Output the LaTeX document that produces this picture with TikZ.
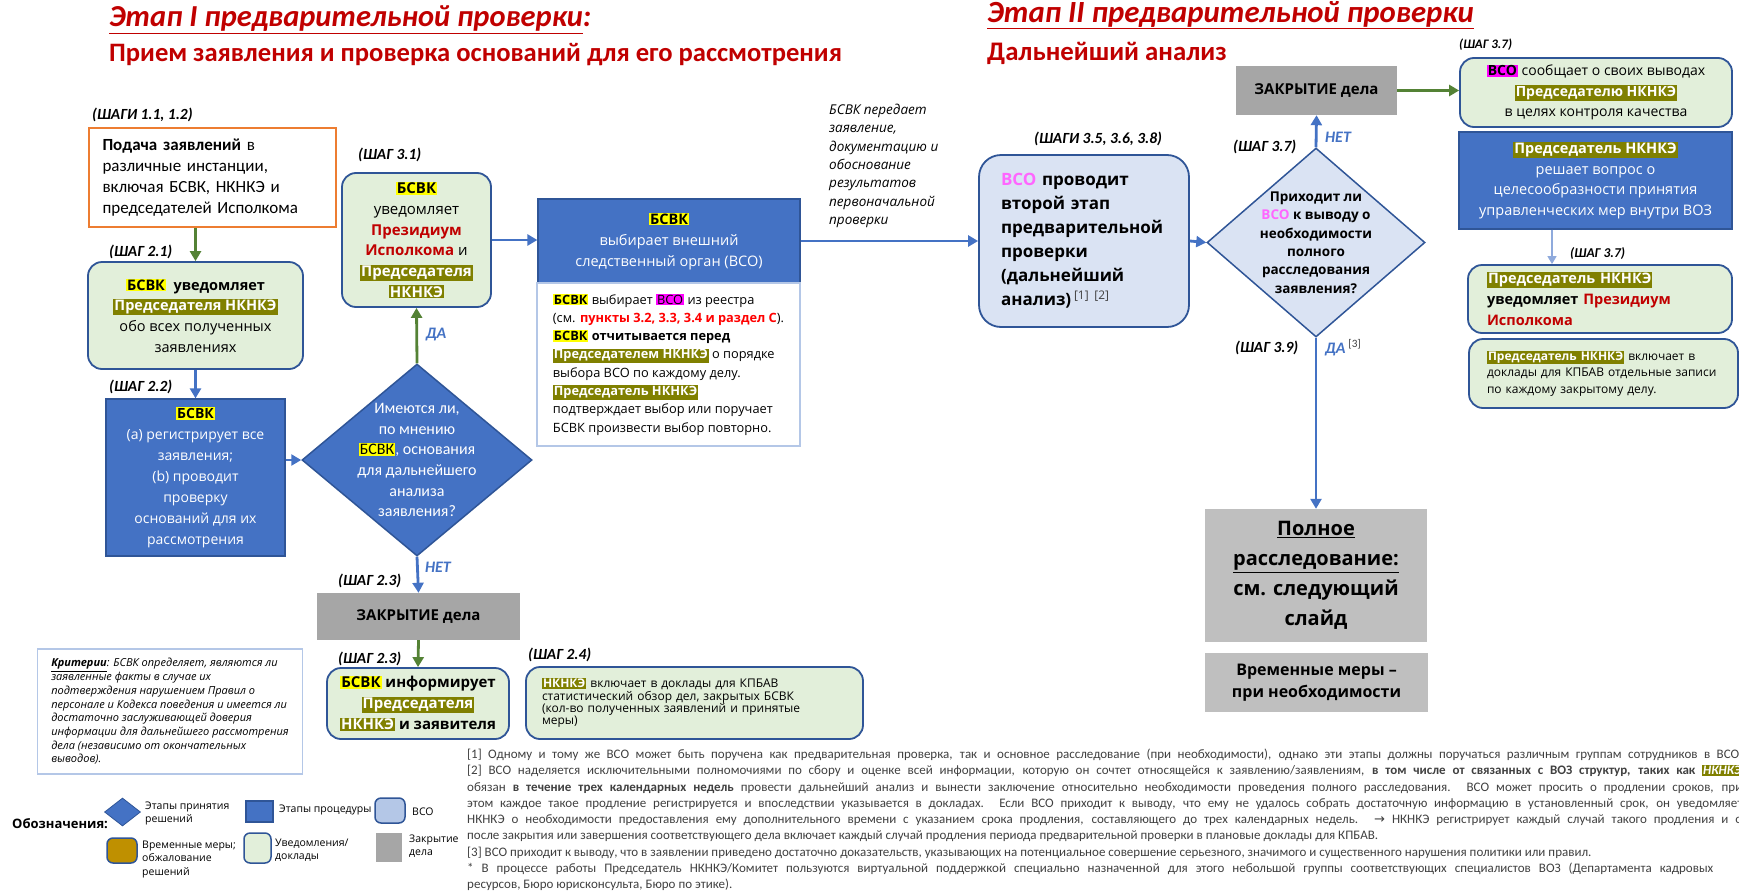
\documentclass[tikz,border=0pt]{standalone}
\usepackage{fontspec}
\setmainfont{Open Sans}
\newfontfamily\calib{Carlito}
\newfontfamily\symfont{DejaVu Sans}
\usetikzlibrary{positioning, shapes.geometric, arrows.meta, calc}
\definecolor{procblue}{RGB}{68,114,196}
\definecolor{edgeblue}{RGB}{47,85,151}
\definecolor{notegreen}{RGB}{226,239,218}
\definecolor{vsoblue}{RGB}{218,227,243}
\definecolor{legendblue}{RGB}{180,199,231}
\definecolor{closegray}{RGB}{166,166,166}
\definecolor{fullgray}{RGB}{191,191,191}
\definecolor{flowgreen}{RGB}{84,130,53}
\definecolor{submitorange}{RGB}{237,125,49}
\definecolor{titlered}{RGB}{192,0,0}
\definecolor{refred}{RGB}{255,0,0}
\definecolor{hlolive}{RGB}{128,128,0}
\definecolor{hlyellow}{RGB}{255,255,0}
\definecolor{hlmagenta}{RGB}{255,0,255}
\definecolor{vsopink}{RGB}{255,102,255}
\definecolor{interimbrown}{RGB}{191,144,0}
\definecolor{thinblue}{RGB}{143,170,220}
\definecolor{notegray}{RGB}{64,64,64}
\newcommand{\fsz}[2]{\fontsize{#1}{#2}\selectfont}
\newcommand{\hlY}[1]{{\setlength{\fboxsep}{1pt}\colorbox{hlyellow}{\textcolor{black}{#1}}}}
\newcommand{\hlO}[1]{{\setlength{\fboxsep}{1pt}\colorbox{hlolive}{\textcolor{white}{\bfseries #1}}}}
\newcommand{\hlM}[1]{{\setlength{\fboxsep}{1pt}\colorbox{hlmagenta}{\textcolor{black}{#1}}}}
\newcommand{\fullline}[1]{\makebox[1275pt][s]{#1}}

\begin{document}
\begin{tikzpicture}[x=1pt, y=-1pt,
    box/.style={align=center, inner sep=0pt, text=black},
    notebox/.style={box, draw=edgeblue, line width=1.8pt, fill=notegreen, rounded corners=14pt},
    procbox/.style={box, draw=edgeblue, line width=1.2pt, fill=procblue, text=white},
    vsobox/.style={box, draw=edgeblue, line width=1.8pt, fill=vsoblue, rounded corners=22pt},
    closebox/.style={box, fill=closegray, font=\bfseries\fsz{15}{20}},
    decision/.style={diamond, draw=edgeblue, line width=1.5pt, fill=procblue, inner sep=0pt},
    steplabel/.style={font=\calib\bfseries\itshape\fsz{15.5}{18}, inner sep=0pt, anchor=west},
    answer/.style={font=\calib\bfseries\itshape\fsz{16}{18}, text=procblue, inner sep=0pt},
    arrow/.style={-{Triangle[length=10pt,width=11pt]}, line width=2.8pt, procblue},
    okarrow/.style={arrow, flowgreen},
    thinarrow/.style={-{Triangle[length=8pt,width=9pt]}, line width=1.4pt, thinblue},
    keyitem/.style={font=\fsz{10.5}{13.5}, align=left, anchor=west, inner sep=0pt}
]
\useasboundingbox (0,0) rectangle (1739,894);
\clip (0,0) rectangle (1739,894);

% Titles
\node[anchor=west, inner sep=0pt, text=titlered, font=\calib\bfseries\itshape\fsz{30.5}{36}] (stage1) at (109,20) {\underline{Этап I предварительной проверки}:};
\node[anchor=west, inner sep=0pt, text=titlered, font=\calib\bfseries\fsz{26.6}{32}] (stage1sub) at (109,55) {Прием заявления и проверка оснований для его рассмотрения};
\node[anchor=west, inner sep=0pt, text=titlered, font=\calib\bfseries\itshape\fsz{30.8}{36}] (stage2) at (987,15) {\underline{Этап II предварительной проверки}};
\node[anchor=west, inner sep=0pt, text=titlered, font=\calib\bfseries\fsz{26.8}{32}] (stage2sub) at (987,53) {Дальнейший анализ};

% Stage I: intake
\node[steplabel] (s11) at (92,115) {(ШАГИ 1.1, 1.2)};
\node[box, draw=submitorange, line width=2pt, fill=white, minimum width=247pt, minimum height=99pt, text width=220pt, align=left, font=\calib\fsz{17}{21}] (submit) at (212.5,177.5) {\textbf{Подача заявлений} в\\различные инстанции,\\включая БСВК, НКНКЭ и\\председателей Исполкома};

\node[steplabel] (s21) at (109,252) {(ШАГ 2.1)};
\node[notebox, minimum width=215pt, minimum height=107pt, font=\fsz{14.5}{20.7}] (notify) at (195.5,315.5) {\hlY{\textbf{БСВК}}\ \ \textbf{уведомляет}\\\hlO{Председателя НКНКЭ}\\обо всех полученных\\заявлениях};

\node[steplabel] (s22) at (109,387) {(ШАГ 2.2)};
\node[procbox, minimum width=179pt, minimum height=157pt, font=\fsz{14}{21}] (register) at (195.5,477.5) {\hlY{\textbf{БСВК}}\\(a) регистрирует все\\заявления;\\(b) проводит\\проверку\\оснований для их\\рассмотрения};

\node[decision, minimum width=230pt, minimum height=192pt] (grounds) at (417,460) {};
\node[box, text=white, font=\calib\fsz{16}{20.7}] (groundstext) at (grounds) {Имеются ли,\\по мнению\\\hlY{БСВК}, основания\\для дальнейшего\\анализа\\заявления?};

\node[steplabel] (s31) at (358,155) {(ШАГ 3.1)};
\node[notebox, minimum width=149pt, minimum height=134pt, font=\fsz{15}{20.7}] (presidium) at (416.5,240) {\hlY{\textbf{БСВК}}\\уведомляет\\\textcolor{titlered}{\textbf{Президиум}}\\\textcolor{titlered}{\textbf{Исполкома}} и\\\hlO{Председателя}\\\hlO{НКНКЭ}};
\node[answer] (yes1) at (436,335) {ДА};

\node[procbox, minimum width=262pt, minimum height=84pt, font=\fsz{14.5}{21}] (choose) at (669,241) {\hlY{\textbf{БСВК}}\\выбирает внешний\\следственный орган (ВСО)};
\node[box, draw=legendblue, line width=1.2pt, fill=white, minimum width=263pt, minimum height=163pt, align=left, font=\fsz{12.8}{18.3}] (rules) at (668.5,364.5) {\hlY{\textbf{БСВК}} выбирает \hlM{ВСО} из реестра\\(см. \textcolor{refred}{\textbf{пункты 3.2, 3.3, 3.4 и раздел С}}).\\\hlY{\textbf{БСВК}} \textbf{отчитывается перед}\\\hlO{Председателем НКНКЭ} о порядке\\выбора ВСО по каждому делу.\\\hlO{Председатель НКНКЭ}\\подтверждает выбор или поручает\\БСВК произвести выбор повторно.};

% Stage I: closure
\node[answer] (no1) at (438,567) {НЕТ};
\node[steplabel] (s23a) at (338,581) {(ШАГ 2.3)};
\node[closebox, minimum width=203pt, minimum height=47pt] (closeleft) at (418.5,616.5) {ЗАКРЫТИЕ дела};
\node[steplabel] (s23b) at (338,659) {(ШАГ 2.3)};
\node[notebox, minimum width=182pt, minimum height=71pt, font=\bfseries\fsz{15}{21}] (inform) at (418,703.5) {\hlY{БСВК} информирует\\\hlO{Председателя}\\\hlO{НКНКЭ} и заявителя};
\node[steplabel] (s24) at (528,655) {(ШАГ 2.4)};
\node[notebox, minimum width=337pt, minimum height=72pt, text width=305pt, align=left, font=\fsz{12}{12.3}] (stats) at (694.5,703) {\hlO{НКНКЭ} включает в доклады для КПБАВ\\статистический обзор дел, закрытых БСВК\\(кол-во полученных заявлений и принятые\\меры)};

\node[box, draw=legendblue, line width=1.2pt, fill=white, minimum width=265pt, minimum height=125pt, align=left, font=\itshape\fsz{11}{13.7}] (criteria) at (170,711.5) {\textbf{\underline{Критерии}}: БСВК определяет, являются ли\\заявленные факты в случае их\\подтверждения нарушением Правил о\\персонале и Кодекса поведения и имеется ли\\достаточно заслуживающей доверия\\информации для дальнейшего рассмотрения\\дела (независимо от окончательных\\выводов).};

% Stage II
\node[anchor=west, inner sep=0pt, font=\itshape\fsz{13.5}{18.3}, align=left] (handover) at (829,166) {БСВК передает\\заявление,\\документацию и\\обоснование\\результатов\\первоначальной\\проверки};
\node[steplabel] (s35) at (1034,139) {(ШАГИ 3.5, 3.6, 3.8)};
\node[vsobox, minimum width=210pt, minimum height=172pt, text width=166pt, align=left, font=\bfseries\fsz{17}{24}] (vso) at (1084,241) {\textcolor{vsopink}{ВСО} проводит\\второй этап\\предварительной\\проверки\\(дальнейший\\анализ)\,\textsuperscript{\mdseries\color{notegray}[1]~[2]}};

\node[decision, fill=vsoblue, minimum width=218pt, minimum height=189pt] (fullq) at (1316,242.5) {};
\node[box, font=\bfseries\fsz{13.5}{18.4}] (fullqtext) at (fullq) {Приходит ли\\\textcolor{vsopink}{ВСО} к выводу о\\необходимости\\полного\\расследования\\заявления?};
\node[steplabel] (s37a) at (1233,147) {(ШАГ 3.7)};
\node[answer] (no2) at (1338,137) {НЕТ};
\node[steplabel] (s39) at (1235,348) {(ШАГ 3.9)};
\node[answer, anchor=west] (yes2) at (1325,348) {ДА\,\textsuperscript{\normalfont\calib\color{notegray}[3]}};

\node[closebox, minimum width=161pt, minimum height=49pt] (closeright) at (1316.5,90.5) {ЗАКРЫТИЕ дела};
\node[steplabel, font=\calib\bfseries\itshape\fsz{13}{16}] (s37b) at (1459,45) {(ШАГ 3.7)};
\node[notebox, minimum width=272pt, minimum height=69pt, font=\fsz{14}{20.5}] (report) at (1596,92.5) {\hlM{\textbf{ВСО}} сообщает о своих выводах\\\hlO{Председателю НКНКЭ}\\в целях контроля качества};
\node[procbox, minimum width=273pt, minimum height=97pt, font=\fsz{14.5}{20.7}] (decide) at (1595.5,180.5) {\hlO{Председатель НКНКЭ}\\решает вопрос о\\целесообразности принятия\\управленческих мер внутри ВОЗ};
\node[steplabel, font=\calib\bfseries\itshape\fsz{13.5}{16}] (s37c) at (1570,254) {(ШАГ 3.7)};
\node[notebox, minimum width=264pt, minimum height=68pt, text width=226pt, align=left, font=\fsz{14.5}{20.7}] (notifychair) at (1600,299) {\hlO{Председатель НКНКЭ}\\\textbf{уведомляет} \textcolor{titlered}{\textbf{Президиум}}\\\textcolor{titlered}{\textbf{Исполкома}}};
\node[notebox, minimum width=269pt, minimum height=69pt, text width=233pt, align=left, font=\fsz{12}{16.5}] (include) at (1603.5,373.5) {\hlO{Председатель НКНКЭ} включает в\\доклады для КПБАВ отдельные записи\\по каждому закрытому делу.};

\node[box, fill=fullgray, minimum width=222pt, minimum height=133pt, font=\bfseries\fsz{20}{30}] (fullinv) at (1316,575.5) {\underline{Полное}\\\underline{расследование:}\\см. следующий\\слайд};
\node[box, fill=fullgray, minimum width=223pt, minimum height=59pt, font=\bfseries\fsz{16}{22}] (interim) at (1316.5,682.5) {Временные меры –\\при необходимости};

% connectors
\draw[okarrow] (submit.south -| notify.north) -- (notify.north);
\draw[arrow] (notify.south) -- (register.north);
\draw[arrow] (register.east |- grounds.west) -- (grounds.west);
\draw[okarrow] (grounds.north) -- (presidium.south);
\draw[arrow] (presidium.east) -- (presidium.east -| choose.west);
\draw[arrow] (choose.east) -- (vso.west);
\draw[arrow] (vso.east) -- (fullq.west);
\draw[arrow] (fullq.north) -- (closeright.south);
\draw[okarrow] (closeright.east) -- (closeright.east -| report.west);
\draw[arrow] (fullq.south) -- (fullinv.north);
\draw[thinarrow] ([xshift=-48pt]notifychair.north |- decide.south) -- ([xshift=-48pt]notifychair.north);
\draw[arrow] (grounds.south) -- (closeleft.north);
\draw[okarrow] (closeleft.south) -- (inform.north);

% Legend
\node[anchor=west, inner sep=0pt, font=\bfseries\fsz{13}{16}] (keytitle) at (12,824) {Обозначения:};
\node[decision, line width=0.8pt, minimum width=36pt, minimum height=28pt] (keydec) at (122.5,812) {};
\node[keyitem] (keydectext) at (145,813.5) {Этапы принятия\\решений};
\node[procbox, minimum width=27pt, minimum height=21pt] (keyproc) at (259.5,811.5) {};
\node[keyitem] (keyproctext) at (279,810) {Этапы процедуры};
\node[vsobox, fill=legendblue, rounded corners=6pt, line width=1.5pt, minimum width=30pt, minimum height=25pt] (keyvso) at (390,810.5) {};
\node[keyitem] (keyvsotext) at (412,812) {ВСО};
\node[box, draw=edgeblue, line width=1.5pt, fill=interimbrown, rounded corners=6pt, minimum width=30pt, minimum height=25pt] (keyinterim) at (122,850.5) {};
\node[keyitem] (keyinterimtext) at (142,859.5) {Временные меры;\\обжалование\\решений};
\node[notebox, rounded corners=6pt, line width=1.5pt, minimum width=27pt, minimum height=30pt] (keynote) at (257.5,848) {};
\node[keyitem] (keynotetext) at (275,850) {Уведомления/\\доклады};
\node[closebox, minimum width=26pt, minimum height=29pt] (keyclose) at (389,847.5) {};
\node[keyitem] (keyclosetext) at (409,846) {Закрытие\\дела};

% Footnotes
\node[anchor=north west, inner sep=0pt, align=left, text=notegray, font=\calib\fsz{13}{16.25}] (notes) at (467,749) {\fullline{[1] Одному и тому же ВСО может быть поручена как предварительная проверка, так и основное расследование (при необходимости), однако эти этапы должны поручаться различным группам сотрудников в ВСО.}\\
\fullline{[2] ВСО наделяется исключительными полномочиями по сбору и оценке всей информации, которую он сочтет относящейся к заявлению/заявлениям, \textbf{в том числе от связанных с ВОЗ структур, таких как} \hlO{\itshape НКНКЭ}}\\
\fullline{обязан \textbf{в течение трех календарных недель} провести дальнейший анализ и вынести заключение относительно необходимости проведения полного расследования. ВСО может просить о продлении сроков, при}\\
\fullline{этом каждое такое продление регистрируется и впоследствии указывается в докладах. Если ВСО приходит к выводу, что ему не удалось собрать достаточную информацию в установленный срок, он уведомляет}\\
\fullline{НКНКЭ о необходимости предоставления ему дополнительного времени с указанием срока продления, составляющего до трех календарных недель. {\symfont →} НКНКЭ регистрирует каждый случай такого продления и о}\\
после закрытия или завершения соответствующего дела включает каждый случай продления периода предварительной проверки в плановые доклады для КПБАВ.\\
{}[3] ВСО приходит к выводу, что в заявлении приведено достаточно доказательств, указывающих на потенциальное совершение серьезного, значимого и существенного нарушения политики или правил.\\
\makebox[1246pt][s]{* В процессе работы Председатель НКНКЭ/Комитет пользуются виртуальной поддержкой специально назначенной для этого небольшой группы соответствующих специалистов ВОЗ (Департамента кадровых}\\
ресурсов, Бюро юрисконсульта, Бюро по этике).};
\end{tikzpicture}
\end{document}
